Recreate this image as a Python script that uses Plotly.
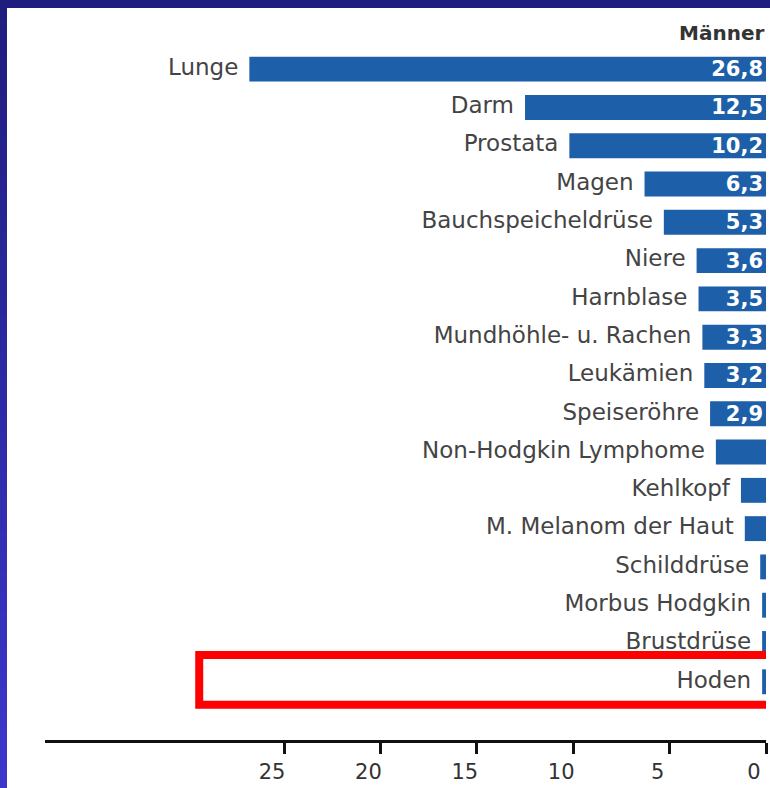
import plotly.graph_objects as go

categories = ["Lunge", "Darm", "Prostata", "Magen", "Bauchspeicheldrüse", "Niere",
              "Harnblase", "Mundhöhle- u. Rachen", "Leukämien", "Speiseröhre",
              "Non-Hodgkin Lymphome", "Kehlkopf", "M. Melanom der Haut",
              "Schilddrüse", "Morbus Hodgkin", "Brustdrüse", "Hoden"]
values = [26.8, 12.5, 10.2, 6.3, 5.3, 3.6, 3.5, 3.3, 3.2, 2.9,
          2.6, 1.3, 1.1, 0.3, 0.2, 0.2, 0.2]
value_labels = ["26,8", "12,5", "10,2", "6,3", "5,3", "3,6", "3,5", "3,3", "3,2", "2,9",
                "", "", "", "", "", "", ""]
tick_vals = [25, 20, 15, 10, 5, 0]
tick_text = ["25", "20", "15", "10", "5", "0"]
title_text = "Männer"
highlight = "Hoden"

W, H = 770, 788
ML, MR, MT, MB = 45, 4, 50, 48
PW, PH = W - ML - MR, H - MT - MB

def px_to_paper_x(px):
    return (px - ML) / PW

def px_to_paper_y(py):
    return (H - MB - py) / PH

FONT = "DejaVu Sans"
BLUE = "#1d5fa9"

fig = go.Figure()
fig.add_trace(go.Bar(
    x=values, y=categories, orientation="h",
    marker=dict(color=BLUE, line=dict(width=0)),
    text=value_labels, textposition="inside", insidetextanchor="start",
    constraintext="none",
    textangle=0, textfont=dict(family=FONT, size=21, color="white", weight="bold"),
    hoverinfo="skip", showlegend=False,
))
fig.add_trace(go.Scatter(
    x=values, y=categories, mode="markers+text", text=categories,
    textposition="middle left",
    marker=dict(size=16, opacity=0),
    textfont=dict(family=FONT, size=23, color="#444444"),
    hoverinfo="skip", showlegend=False,
))

shapes = []
# blue gradient background frame
n = 40
c0 = (31, 29, 126)
c1 = (59, 55, 204)
for i in range(n):
    t = i / (n - 1)
    col = "rgb(%d,%d,%d)" % tuple(round(a + (b - a) * t) for a, b in zip(c0, c1))
    y_top = H * i / n
    y_bot = H * (i + 1) / n + 1
    shapes.append(dict(type="rect", xref="paper", yref="paper", layer="below",
                       x0=px_to_paper_x(-2), x1=px_to_paper_x(W + 2),
                       y0=px_to_paper_y(y_bot), y1=px_to_paper_y(y_top),
                       fillcolor=col, line=dict(width=0)))
shapes.append(dict(type="rect", xref="paper", yref="paper", layer="below",
                   x0=px_to_paper_x(7), x1=px_to_paper_x(W + 5),
                   y0=px_to_paper_y(H + 5), y1=px_to_paper_y(8),
                   fillcolor="white", line=dict(width=0)))
# red highlight box around "Hoden"
hi = categories.index(highlight)
shapes.append(dict(type="rect", xref="x", yref="y", layer="above",
                   x0=29.4, x1=-3, y0=hi - 0.70, y1=hi + 0.60,
                   line=dict(color="#ff0000", width=8), fillcolor="rgba(0,0,0,0)"))

fig.update_layout(
    width=W, height=H,
    margin=dict(l=ML, r=MR, t=MT, b=MB),
    paper_bgcolor="#2c2aa6", plot_bgcolor="rgba(0,0,0,0)",
    bargap=0.35,
    shapes=shapes,
    xaxis=dict(range=[37.4, 0], autorange=False, tickvals=tick_vals, ticktext=tick_text,
               showgrid=False, zeroline=False, showline=True, linecolor="#111111",
               linewidth=3, ticks="outside", ticklen=11, tickwidth=2.5, tickcolor="#111111",
               tickfont=dict(family=FONT, size=21, color="#333333"),
               ticklabelshift=12, ticklabeloverflow="allow", fixedrange=True),
    yaxis=dict(categoryorder="array", categoryarray=categories,
               range=[17.52, -0.5], autorange=False, showticklabels=False,
               showgrid=False, zeroline=False, showline=False, ticks="", fixedrange=True),
    annotations=[dict(text="<b>%s</b>" % title_text, xref="paper", yref="paper",
                      x=1, y=px_to_paper_y(33), xanchor="right", yanchor="middle",
                      showarrow=False, font=dict(family=FONT, size=20, color="#333333"))],
)

fig.write_html("out.html", config={"displayModeBar": False},
               post_script="document.body.style.margin='0';document.body.style.overflow='hidden';")
